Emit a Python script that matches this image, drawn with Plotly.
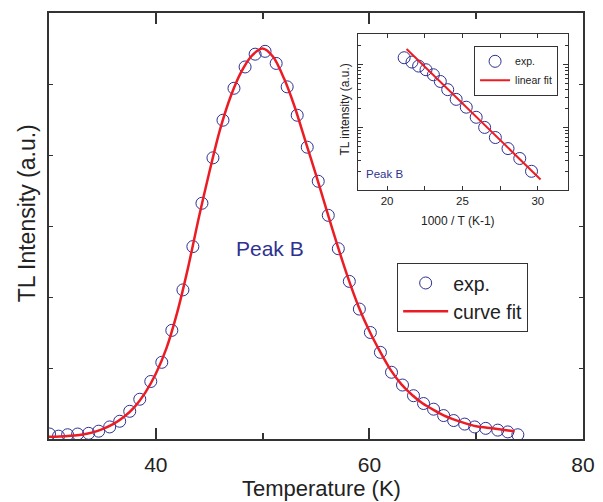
import plotly.graph_objects as go

# ---- main panel data (Temperature in K, TL intensity in arbitrary units) ----
exp_T = [30.05, 30.89, 31.74, 32.68, 33.71, 34.65, 35.68, 36.62, 37.56, 38.50,
         39.53, 40.56, 41.50, 42.54, 43.47, 44.32, 45.35, 46.29, 47.32, 48.36,
         49.30, 50.23, 51.27, 52.30, 53.24, 54.18, 55.21, 56.15, 57.09, 58.12,
         59.06, 60.09, 61.03, 62.07, 63.10, 64.13, 65.07, 66.01, 66.95, 67.89,
         68.92, 69.86, 70.89, 72.02, 72.96, 73.90]
exp_I = [0.07, 0.04, 0.06, 0.07, 0.08, 0.11, 0.17, 0.25, 0.39, 0.56,
         0.81, 1.08, 1.53, 2.10, 2.71, 3.32, 3.96, 4.49, 4.94, 5.24,
         5.42, 5.46, 5.29, 4.96, 4.56, 4.11, 3.63, 3.15, 2.68, 2.22,
         1.83, 1.50, 1.22, 0.94, 0.76, 0.61, 0.50, 0.42, 0.33, 0.26,
         0.21, 0.17, 0.15, 0.125, 0.10, 0.06]

fit_T = [30, 31, 32, 33, 34, 35, 36, 37, 38, 39, 40, 41, 42, 43, 44, 45, 46,
         47, 48, 49, 50, 51, 52, 53, 54, 55, 56, 57, 58, 59, 60, 61, 62, 63,
         64, 65, 66, 67, 68, 69, 70, 71, 72, 73, 73.6]
fit_I = [0.03, 0.035, 0.045, 0.06, 0.09, 0.14, 0.21, 0.31, 0.45, 0.65, 0.92,
         1.28, 1.78, 2.40, 3.10, 3.75, 4.35, 4.82, 5.17, 5.40, 5.50, 5.38,
         5.08, 4.68, 4.20, 3.72, 3.22, 2.73, 2.27, 1.86, 1.52, 1.23, 0.97,
         0.77, 0.62, 0.50, 0.41, 0.33, 0.27, 0.22, 0.18, 0.16, 0.14, 0.12, 0.11]

# ---- inset data (1000/T vs TL intensity, log scale) ----
inv_T = [21.13, 21.65, 22.09, 22.58, 23.07, 23.53, 24.02, 24.58, 25.25,
         25.91, 26.47, 27.18, 28.02, 28.80, 29.58]
inv_I = [129, 110, 95, 83, 69, 54, 40, 28, 21, 14.5, 10, 6.9, 4.6, 3.2, 2.0]
lin_x = [21.29, 30.18]
lin_y = [178, 1.48]

x_ticks = [40, 60, 80]
inset_x_ticks = [20, 25, 30]

BLUE = "#2E3192"
RED = "#EC1C24"
AX = "#333333"
TXT = "#222222"
FONT = "Liberation Sans, Arial, sans-serif"

fig = go.Figure()

fig.add_trace(go.Scatter(
    x=exp_T, y=exp_I, mode="markers", name="exp.",
    marker=dict(symbol="circle-open", size=12, color=BLUE, line=dict(width=1)),
    xaxis="x", yaxis="y", legend="legend"))
fig.add_trace(go.Scatter(
    x=fit_T, y=fit_I, mode="lines", name="curve fit",
    line=dict(color=RED, width=2.5, shape="spline", smoothing=0.8),
    xaxis="x", yaxis="y", legend="legend"))

fig.add_trace(go.Scatter(
    x=inv_T, y=inv_I, mode="markers", name="exp.",
    marker=dict(symbol="circle-open", size=12, color=BLUE, line=dict(width=1)),
    xaxis="x2", yaxis="y2", legend="legend2"))
fig.add_trace(go.Scatter(
    x=lin_x, y=lin_y, mode="lines", name="linear fit",
    line=dict(color=RED, width=2),
    xaxis="x2", yaxis="y2", legend="legend2"))

# the page body adds an 8px margin, so the figure is 8px smaller and shifted
fig.update_layout(
    width=595, height=494,
    margin=dict(l=41, r=20, t=3, b=63),
    paper_bgcolor="white", plot_bgcolor="white",
    font=dict(family=FONT, color=TXT),
    xaxis=dict(
        domain=[0, 1], anchor="y", range=[30, 80],
        tickvals=x_ticks, ticks="inside", ticklen=11, tickwidth=1.5,
        tickcolor=AX, showline=True, linecolor=AX, linewidth=1.5,
        mirror="ticks", showgrid=False, zeroline=False,
        tickfont=dict(size=21, color=TXT), ticklabelstandoff=6,
        minor=dict(tickvals=[30, 50, 70], ticks="inside", ticklen=6,
                   tickcolor=AX, tickwidth=1.5, showgrid=False)),
    yaxis=dict(
        domain=[0, 1], anchor="x", range=[0, 6],
        dtick=1, ticks="inside", ticklen=4, tickwidth=1, tickcolor=AX,
        showticklabels=False, showline=True, linecolor=AX, linewidth=1.5,
        mirror="ticks", showgrid=False, zeroline=False),
    xaxis2=dict(
        domain=[0.5787, 0.9719], anchor="y2", range=[18.07, 32.0],
        tickvals=inset_x_ticks, ticks="inside", ticklen=4, tickwidth=1,
        tickcolor=AX, showline=True, linecolor=AX, linewidth=1.2,
        mirror="ticks", showgrid=False, zeroline=False,
        tickfont=dict(size=11.5, color=TXT),
        minor=dict(dtick=2.5, tick0=0, ticks="inside", ticklen=4,
                   tickcolor=AX, tickwidth=1, showgrid=False)),
    yaxis2=dict(
        domain=[0.5841, 0.9509], anchor="x2", type="log", range=[0, 2.49],
        dtick=1, ticks="inside", ticklen=5, tickwidth=1, tickcolor=AX,
        showticklabels=False, showline=True, linecolor=AX, linewidth=1.2,
        mirror="ticks", showgrid=False, zeroline=False,
        minor=dict(dtick="D1", ticks="inside", ticklen=2.5, tickcolor=AX,
                   tickwidth=1, showgrid=False)),
    legend=dict(
        x=0.652, y=0.4136, xanchor="left", yanchor="top",
        bgcolor="white", bordercolor=AX, borderwidth=1,
        font=dict(size=19.5, family=FONT, color=TXT),
        itemwidth=45, tracegroupgap=0),
    legend2=dict(
        x=0.796, y=0.923, xanchor="left", yanchor="top",
        bgcolor="white", bordercolor=AX, borderwidth=1,
        font=dict(size=10.5, family=FONT, color=TXT),
        itemwidth=30, tracegroupgap=0),
    annotations=[
        dict(text="Temperature (K)", xref="paper", yref="paper",
             x=0.51, y=-0.117, xanchor="center", yanchor="middle",
             showarrow=False, font=dict(size=22, family=FONT, color=TXT)),
        dict(text="TL Intensity (a.u.)", xref="paper", yref="paper",
             x=-0.041, y=0.53, xanchor="center", yanchor="middle",
             textangle=-90, showarrow=False,
             font=dict(size=23, family=FONT, color=TXT)),
        dict(text="Peak B", xref="x", yref="y", x=50.7, y=2.69,
             xanchor="center", yanchor="middle", showarrow=False,
             font=dict(size=21, family=FONT, color=BLUE)),
        dict(text="1000 / T (K-1)", xref="paper", yref="paper",
             x=0.766, y=0.5117, xanchor="center", yanchor="middle",
             showarrow=False, font=dict(size=12, family=FONT, color=TXT)),
        dict(text="TL intensity (a.u.)", xref="paper", yref="paper",
             x=0.5543, y=0.7734, xanchor="center", yanchor="middle",
             textangle=-90, showarrow=False,
             font=dict(size=12, family=FONT, color=TXT)),
        dict(text="Peak B", xref="x2", yref="y2", x=18.47, y=0.254,
             xanchor="left", yanchor="middle", showarrow=False,
             font=dict(size=11.5, family=FONT, color=BLUE)),
    ],
)

fig.write_html("out.html")
